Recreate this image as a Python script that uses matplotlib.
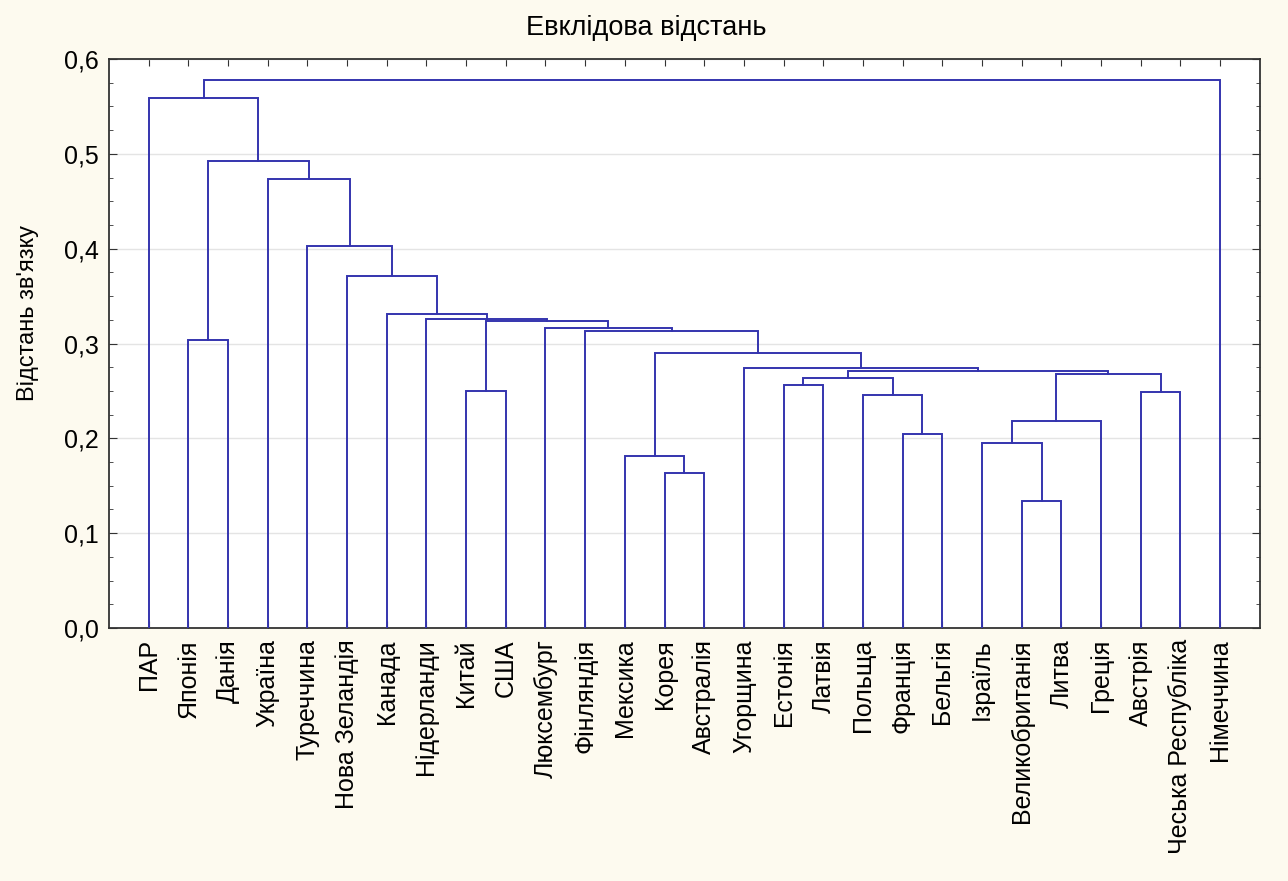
import matplotlib
matplotlib.use('Agg')
import matplotlib.pyplot as plt
from matplotlib.ticker import MultipleLocator, FixedLocator

plt.rcParams['font.family'] = ['Liberation Sans', 'DejaVu Sans']

# leaves in the order they appear on the x axis
leaves = ["ПАР", "Японія", "Данія", "Україна", "Туреччина", "Нова Зеландія",
          "Канада", "Нідерланди", "Китай", "США", "Люксембург", "Фінляндія",
          "Мексика", "Корея", "Австралія", "Угорщина", "Естонія", "Латвія",
          "Польща", "Франція", "Бельгія", "Ізраїль", "Великобританія", "Литва",
          "Греція", "Австрія", "Чеська Республіка", "Німеччина"]

# merges: (left, right, linkage distance); ints refer to earlier merges
merge_left = ["Великобританія", "Корея", "Мексика", "Ізраїль", "Франція", 3,
              "Польща", "Австрія", "Китай", "Естонія", 9, 5, 10, "Угорщина",
              2, "Японія", "Фінляндія", "Люксембург", 8, "Нідерланди",
              "Канада", "Нова Зеландія", "Туреччина", "Україна", 15, "ПАР", 25]
merge_right = ["Литва", "Австралія", 1, 0, "Бельгія", "Греція",
               4, "Чеська Республіка", "США", "Латвія", 6, 7, 11, 12,
               13, "Данія", 14, 16, 17, 18,
               19, 20, 21, 22, 23, 24, "Німеччина"]
merge_height = [0.134, 0.163, 0.181, 0.195, 0.205, 0.218,
                0.246, 0.249, 0.250, 0.256, 0.264, 0.268, 0.271, 0.274,
                0.290, 0.304, 0.313, 0.316, 0.324, 0.326,
                0.331, 0.371, 0.403, 0.474, 0.492, 0.559, 0.578]

title = "Евклідова відстань"
ylabel = "Відстань зв'язку"

line_color = '#3434ae'
bg = '#fdfaef'

fig = plt.figure(figsize=(12.88, 8.81), dpi=100, facecolor=bg)
ax = fig.add_axes([0.0846, 0.2872, 0.8935, 0.6458])
ax.set_facecolor('white')

pos = {name: i + 1 for i, name in enumerate(leaves)}
hgt = {name: 0.0 for name in leaves}

for k, (a, b, h) in enumerate(zip(merge_left, merge_right, merge_height)):
    xa, xb = pos[a], pos[b]
    ax.plot([xa, xa, xb, xb], [hgt[a], h, h, hgt[b]], color=line_color,
            lw=1.4, solid_joinstyle='miter', zorder=3)
    pos[k] = (xa + xb) / 2.0
    hgt[k] = h

ax.set_xlim(0, len(leaves) + 1)
ax.set_ylim(0, 0.6)

ax.xaxis.set_major_locator(FixedLocator(range(1, len(leaves) + 1)))
ax.set_xticklabels(leaves, rotation=90, fontsize=18)
ax.yaxis.set_major_locator(MultipleLocator(0.1))
ax.yaxis.set_minor_locator(MultipleLocator(0.025))
ax.set_yticklabels([f"{v:.1f}".replace('.', ',') for v in ax.get_yticks()],
                   fontsize=18)

ax.tick_params(axis='both', which='both', direction='in',
               top=True, right=True, color='#333333')
ax.tick_params(axis='x', which='major', length=5, pad=8)
ax.tick_params(axis='y', which='major', length=6, pad=7)
ax.tick_params(axis='y', which='minor', length=3)

ax.grid(axis='y', which='major', color='#e4e4e4', lw=1.0, zorder=0)
for s in ax.spines.values():
    s.set_color('#333333')
    s.set_linewidth(1.3)

fig.text(0.502, 0.968, title, ha='center', va='center', fontsize=19.5)
fig.text(0.022, 0.645, ylabel, ha='center', va='center', rotation=90,
         fontsize=17)

fig.savefig('out.png', dpi=100, facecolor=bg)
